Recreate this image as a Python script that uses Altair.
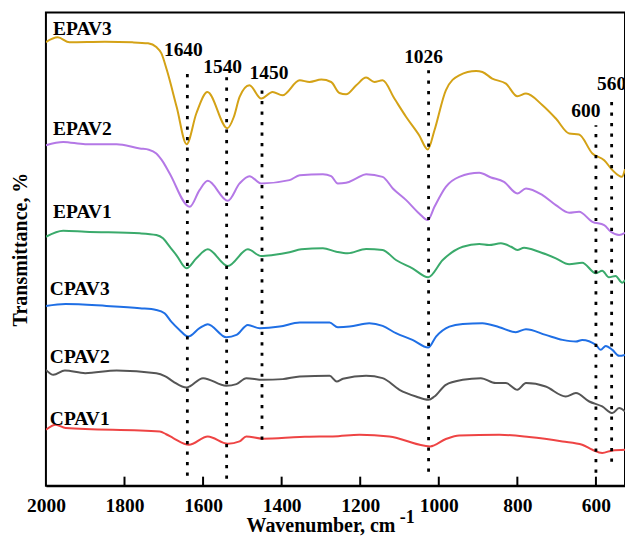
import altair as alt
import pandas as pd

# ---- FTIR spectra (wavenumber in cm-1, transmittance in offset arbitrary units) ----
series_names = ["EPAV3", "EPAV2", "EPAV1", "CPAV3", "CPAV2", "CPAV1"]
series_colors = ["#D4A216", "#B478E6", "#3AAA6B", "#1F6FE5", "#555555", "#EE4444"]

epav3_wn = [2000, 1970, 1940, 1850, 1780, 1740, 1719, 1706, 1692, 1667, 1642, 1617, 1589, 1538,
            1522, 1507, 1482, 1452, 1423, 1398, 1354, 1329, 1299, 1274, 1253, 1236, 1210, 1185,
            1164, 1143, 1113, 1083, 1050, 1028, 1011, 982, 948, 905, 889, 864, 829, 800,
            778, 736, 702, 668, 643, 609, 579, 558, 534, 526]
epav3_t = [444.3, 449, 444, 444.5, 444, 443, 439.3, 433, 416, 379, 342, 373, 394.3, 358,
           369, 389.3, 401, 387.7, 394.3, 391, 406, 404.3, 406.7, 404.3, 393.3, 392, 401, 408.7,
           404.3, 406, 387.7, 369.3, 351, 336.7, 356, 396, 411, 415.3, 414.3, 407.7, 402.7, 390,
           392.7, 381, 367.7, 352.7, 351.7, 332.7, 326, 316, 309.3, 317]

epav2_wn = [2000, 1956, 1900, 1820, 1761, 1738, 1719, 1702, 1685, 1634, 1609, 1588, 1537, 1507,
            1482, 1452, 1380, 1354, 1295, 1274, 1257, 1236, 1210, 1185, 1143, 1117, 1083, 1050,
            1028, 1011, 982, 948, 897, 867, 834, 800, 778, 736, 702, 668, 643, 609, 579,
            562, 541, 526]
epav2_t = [341, 344.3, 342, 342, 337.7, 336.5, 332.7, 324.3, 312.7, 279.3, 296, 305.3, 285.3,
           302.7, 310, 302.7, 306, 311, 312, 310, 302.7, 303.3, 307.7, 312, 309.3, 297.7, 286,
           272.7, 266, 279.3, 299.3, 309.3, 313.3, 308.7, 304.3, 292.7, 297.7, 291, 281, 273.3,
           274.3, 264.3, 261, 254.3, 251, 253.3]

epav1_wn = [2000, 1956, 1900, 1761, 1719, 1702, 1685, 1668, 1642, 1617, 1588, 1537, 1486, 1452,
            1422, 1380, 1350, 1295, 1261, 1232, 1185, 1143, 1109, 1067, 1027, 990, 939, 897, 872,
            842, 816, 800, 783, 745, 702, 668, 635, 600, 584, 567, 550, 533, 526]
epav1_t = [249.3, 255.3, 254.3, 252.7, 251, 247.7, 239.3, 231, 217.7, 227.7, 236.7, 220, 236.7,
           230, 231, 233.7, 236.7, 237.7, 234.3, 232.7, 237, 236, 226, 217.7, 208.7, 226, 239.3,
           242, 241, 242.7, 239.3, 236, 238.3, 234.3, 227.7, 221.7, 223.3, 212.7, 215.3, 208.7,
           210, 203.3, 206]

cpav3_wn = [2000, 1950, 1846, 1761, 1719, 1698, 1681, 1660, 1638, 1609, 1588, 1541, 1515, 1486,
            1456, 1405, 1354, 1278, 1257, 1227, 1177, 1143, 1109, 1067, 1027, 1007, 973, 939, 889,
            846, 804, 778, 728, 685, 651, 635, 600, 588, 575, 558, 541, 526]
cpav3_t = [180, 182, 180, 177.7, 176, 172.7, 164.3, 156, 149.3, 157.7, 161.7, 148.7, 151, 161,
           157.7, 159.3, 163.3, 163.3, 158.7, 159.3, 162.7, 160, 152.7, 146, 138.3, 149.3, 159.3,
           162, 162.7, 158.7, 153.7, 156.7, 151, 146, 144.3, 146, 141, 136, 140, 136, 130, 131]

cpav2_wn = [2000, 1981, 1952, 1900, 1820, 1719, 1696, 1676, 1642, 1600, 1541, 1515, 1490, 1448,
            1397, 1354, 1278, 1260, 1244, 1185, 1143, 1100, 1058, 1026, 1011, 982, 939, 893,
            855, 829, 800, 778, 728, 677, 651, 617, 584, 558, 541, 526]
cpav2_t = [116, 111, 115.3, 112.7, 115.3, 112.7, 109.5, 104.3, 98.3, 107.7, 100, 101.7, 107.7,
           106, 106.7, 109.3, 110, 104.3, 107, 110, 107.7, 96, 89.3, 86, 89.3, 101, 106, 107.7,
           102.7, 102.7, 96, 102.7, 99.3, 89.3, 92.7, 84.3, 79.3, 72.7, 77.7, 74.3]

cpav1_wn = [2000, 1975, 1950, 1710, 1694, 1676, 1636, 1588, 1537, 1507, 1490, 1448, 1354, 1304,
            1270, 1202, 1126, 1022, 982, 948, 846, 770, 685, 635, 609, 584, 558, 526]
cpav1_t = [56, 61, 57.7, 54.3, 51.5, 47.7, 41, 49.3, 42, 44.3, 49.3, 47, 48.7, 49.3,
           49.3, 51, 49.3, 39.3, 46.7, 50.3, 51, 48.7, 44.3, 41, 36, 32.7, 35.3, 36]

# Characteristic bands marked with dotted guides
peak_wn = [1640, 1540, 1450, 1026, 600, 560]
peak_top = [414, 409, 396, 416, 361, 388]
peak_bottom = [10, 7, 46, 14, 13, 24]

# Curve name annotations (left edge, in data units)
name_wn = [1982, 1982, 1982, 1990, 1990, 1990]
name_t = [451, 351, 267.7, 191, 122.7, 61]

x_ticks = [2000, 1800, 1600, 1400, 1200, 1000, 800, 600]
inner_ticks = [1800, 1600, 1400, 1200, 1000, 800, 600]

FONT = "Liberation Serif"

wn_lists = [epav3_wn, epav2_wn, epav1_wn, cpav3_wn, cpav2_wn, cpav1_wn]
t_lists = [epav3_t, epav2_t, epav1_t, cpav3_t, cpav2_t, cpav1_t]
rows = []
for name, wns, ts in zip(series_names, wn_lists, t_lists):
    for w, t in zip(wns, ts):
        rows.append({"sample": name, "wn": w, "t": t})
spectra = pd.DataFrame(rows)

peaks = pd.DataFrame({"wn": peak_wn, "top": peak_top, "bottom": peak_bottom,
                      "label": [str(p) for p in peak_wn]})
names = pd.DataFrame({"sample": series_names, "wn": name_wn, "t": name_t})
ticks = pd.DataFrame({"wn": inner_ticks})

x_scale = alt.Scale(domain=[526, 2000], reverse=True, nice=False, zero=False)
y_scale = alt.Scale(domain=[0, 474], nice=False, zero=False)

x_axis = alt.Axis(values=x_ticks, format="d", ticks=False, tickSize=0, grid=False,
                  domainColor="black", domainWidth=2,
                  labelFont=FONT, labelFontSize=19.5, labelFontWeight="bold", labelColor="black",
                  labelBaseline="alphabetic", labelPadding=26, labelFlush=False,
                  title="Wavenumber, cm", titleFont=FONT, titleFontSize=20,
                  titleFontWeight="bold", titleColor="black",
                  titleX=275, titleY=46, titleBaseline="alphabetic")
y_axis = alt.Axis(labels=False, ticks=False, domain=False, grid=False,
                  title="Transmittance, %", titleFont=FONT, titleFontSize=20,
                  titleFontWeight="bold", titleColor="black",
                  titleX=-19, titleY=237, titleAngle=270, titleBaseline="alphabetic")

color = alt.Color("sample:N", scale=alt.Scale(domain=series_names, range=series_colors),
                  legend=None)

lines = alt.Chart(spectra).mark_line(strokeWidth=2, interpolate="monotone", clip=True).encode(
    x=alt.X("wn:Q", scale=x_scale, axis=x_axis),
    y=alt.Y("t:Q", scale=y_scale, axis=y_axis),
    color=color,
    detail="sample:N",
)

guides = alt.Chart(peaks).mark_rule(color="black", strokeWidth=2.8,
                                    strokeDash=[3.2, 7.3]).encode(
    x=alt.X("wn:Q", scale=x_scale),
    y=alt.Y("bottom:Q", scale=y_scale),
    y2="top:Q",
)

# per-label nudges (pixels) so the numbers sit above their guides
label_nudge = {1640: (-4, -16), 1540: (-4, -4), 1450: (7, -11),
               1026: (-5, -7), 600: (-10, -8), 560: (0, -8)}
peak_labels = []
for w in peak_wn:
    dx, dy = label_nudge[w]
    peak_labels.append(
        alt.Chart(peaks).transform_filter(alt.datum.wn == w).mark_text(
            font=FONT, fontSize=19.5, fontWeight="bold", color="black",
            align="center", baseline="alphabetic", dx=dx, dy=dy
        ).encode(x=alt.X("wn:Q", scale=x_scale), y=alt.Y("top:Q", scale=y_scale),
                 text="label:N")
    )

name_labels = alt.Chart(names).mark_text(
    font=FONT, fontSize=19.5, fontWeight="bold", color="black",
    align="left", baseline="alphabetic"
).encode(x=alt.X("wn:Q", scale=x_scale), y=alt.Y("t:Q", scale=y_scale), text="sample:N")

inner = alt.Chart(ticks).mark_rule(color="black", strokeWidth=2).encode(
    x=alt.X("wn:Q", scale=x_scale),
    y=alt.datum(0, scale=y_scale),
    y2=alt.datum(9),
)

unit_sup = alt.Chart(names).mark_text(
    font=FONT, fontSize=18, fontWeight="bold", color="black",
    align="center", baseline="alphabetic", text="-1"
).encode(x=alt.value(362), y=alt.value(511)).transform_filter(alt.datum.sample == "EPAV3")

chart = alt.layer(lines, guides, inner, name_labels, unit_sup, *peak_labels).properties(
    width=580, height=474,
    autosize=alt.AutoSizeParams(type="none"),
    padding={"left": 46, "top": 12, "right": 0, "bottom": 55},
    background="white",
).configure_view(stroke="black", strokeWidth=2)

chart.save("out.html", embed_options={"renderer": "svg", "actions": False})
